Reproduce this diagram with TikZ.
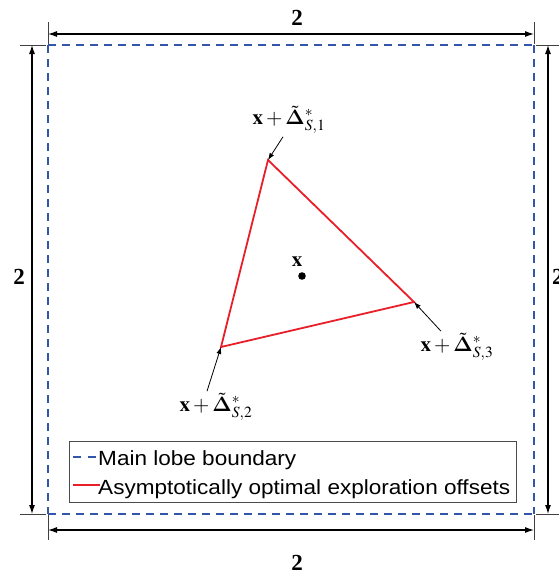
\documentclass[tikz,border=0pt]{standalone}
\usepackage{amsmath}
\usepackage{bm}
\usepackage{mathptmx}
\usepackage{fontspec}
\setmainfont{Liberation Serif}
\setsansfont{Liberation Sans}
\usetikzlibrary{arrows.meta}

\definecolor{lobeblue}{RGB}{51,85,170}
\definecolor{offsetred}{RGB}{232,30,40}

\tikzset{
  dimline/.style={line width=1.1pt, {Latex[length=9pt,width=6pt]}-{Latex[length=9pt,width=6pt]}},
  extline/.style={line width=0.6pt, black!75},
  lobe/.style={lobeblue, dash pattern=on 8pt off 6pt, line width=2pt},
  offset/.style={offsetred, line width=1.8pt},
  pointer/.style={line width=0.8pt, -{Latex[length=7pt,width=5pt]}},
  ptlabel/.style={font=\fontsize{21}{23}\selectfont, inner sep=0pt},
  dimlabel/.style={font=\fontsize{23}{25}\selectfont\bfseries, inner sep=0pt},
  legtext/.style={font=\sffamily\fontsize{20.5}{22}\selectfont, anchor=base west, inner sep=0pt, xscale=1.1, transform shape},
}

\begin{document}
\begin{tikzpicture}[x=1pt, y=-1pt]
  \useasboundingbox (0,0) rectangle (559,576);

  % main lobe corners
  \coordinate (tl) at (48,45);
  \coordinate (tr) at (534,45);
  \coordinate (bl) at (48,514);
  \coordinate (br) at (534,514);
  \draw[lobe] (tl) -- (tr);
  \draw[lobe] (bl) -- (br);
  \draw[lobe] (tl) -- (bl);
  \draw[lobe] (tr) -- (br);

  % extension lines
  \draw[extline] (48,22) -- (48,44) (46,45) -- (20,45);
  \draw[extline] (534,22) -- (534,44) (536,45) -- (559,45);
  \draw[extline] (48,540) -- (48,515) (46,514) -- (20,514);
  \draw[extline] (534,540) -- (534,515) (536,514) -- (559,514);

  % dimension arrows
  \coordinate (top1) at (48,34);
  \coordinate (top2) at (534,34);
  \coordinate (bot1) at (48,530);
  \coordinate (bot2) at (534,530);
  \coordinate (lft1) at (32,45);
  \coordinate (lft2) at (32,514);
  \coordinate (rgt1) at (548,45);
  \coordinate (rgt2) at (548,514);
  \draw[dimline] (top1) -- (top2);
  \draw[dimline] (bot1) -- (bot2);
  \draw[dimline] (lft1) -- (lft2);
  \draw[dimline] (rgt1) -- (rgt2);
  \node[dimlabel] (dtop) at (297,18) {2};
  \node[dimlabel] (dbot) at (297,563) {2};
  \node[dimlabel] (dlft) at (19,277) {2};
  \node[dimlabel, anchor=west] (drgt) at (552,277) {2};

  % exploration offsets
  \coordinate (p1) at (268,160);
  \coordinate (p2) at (221,347);
  \coordinate (p3) at (414,302);
  \draw[offset] (p1) -- (p2) -- (p3) -- cycle;

  \fill (302,276) circle (3.8pt);
  \node[ptlabel] (xc) at (297,262) {$\mathbf{x}$};

  \node[ptlabel] (l1) at (289,120) {$\mathbf{x}+\tilde{\bm{\Delta}}^{*}_{S,1}$};
  \node[ptlabel] (l2) at (216,407) {$\mathbf{x}+\tilde{\bm{\Delta}}^{*}_{S,2}$};
  \node[ptlabel] (l3) at (457,347) {$\mathbf{x}+\tilde{\bm{\Delta}}^{*}_{S,3}$};
  \draw[pointer] ([xshift=-6pt, yshift=-3pt]l1.south) -- (p1);
  \draw[pointer] ([xshift=-9pt, yshift=2pt]l2.north) -- (p2);
  \draw[pointer] ([xshift=-16pt, yshift=2pt]l3.north) -- (p3);

  % legend
  \draw[black!70, fill=white, line width=0.8pt] (69,441) rectangle (516,502);
  \draw[lobe, line width=1.4pt, dash pattern=on 8pt off 7pt] (73,457) -- (100,457);
  \draw[offset, line width=1.4pt] (73,485) -- (100,485);
  \node[legtext] (leg1) at (98,465) {Main lobe boundary};
  \node[legtext] (leg2) at (98,494) {Asymptotically optimal exploration offsets};
\end{tikzpicture}
\end{document}
